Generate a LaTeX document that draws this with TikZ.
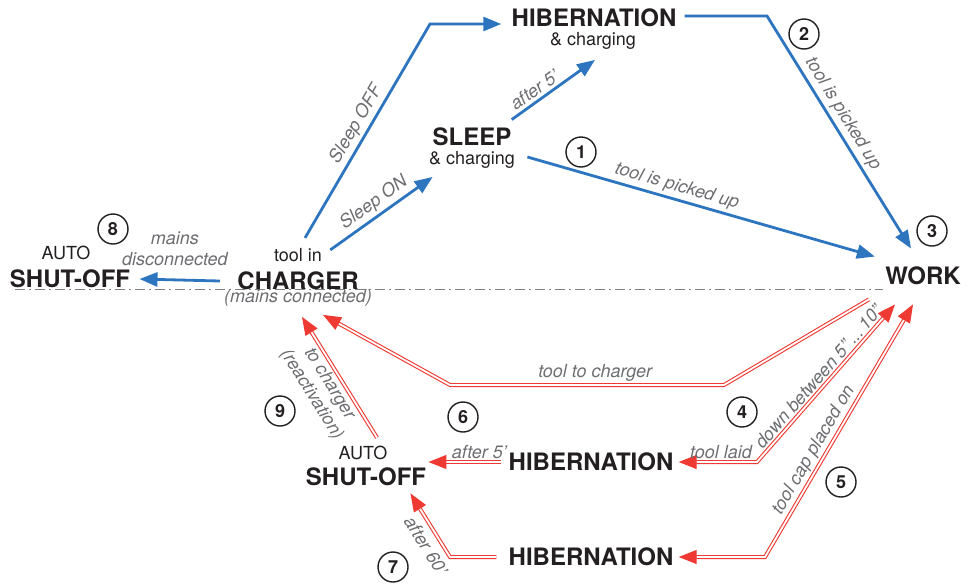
\documentclass[tikz,border=0pt]{standalone}
\usepackage{fontspec}
\setmainfont{TeX Gyre Heros}
\usepackage{xcolor}
\usepackage{tikz}
\usetikzlibrary{arrows.meta}
\definecolor{ink}{HTML}{231F20}
\definecolor{muted}{HTML}{6D6E71}
\definecolor{rule}{HTML}{808080}
\definecolor{flowblue}{HTML}{2E75BF}
\definecolor{flowred}{HTML}{EE3A33}
\tikzset{
  state/.style={text=ink, font=\fontsize{12}{14}\selectfont\bfseries, inner sep=1pt},
  sub/.style={text=ink, font=\fontsize{9}{10.5}\selectfont, inner sep=1pt},
  lab/.style={text=muted, font=\fontsize{9}{10.5}\selectfont\itshape, inner sep=1.5pt},
  num/.style={circle, draw=ink, line width=0.7pt, minimum size=15pt, inner sep=0pt, text=ink, font=\fontsize{9}{10}\selectfont\bfseries},
  blueflow/.style={draw=flowblue, line width=1.4pt, -{Triangle[length=9pt,width=7pt]}},
  redflow/.style={draw=flowred, double=white, line width=0.55pt, double distance=0.9pt, -{Triangle[length=9pt,width=7pt,fill=flowred]}},
  redboth/.style={redflow, {Triangle[length=9pt,width=7pt,fill=flowred]}-{Triangle[length=9pt,width=7pt,fill=flowred]}},
  divider/.style={draw=rule, line width=0.5pt, dash pattern=on 5pt off 2pt on 1pt off 2pt},
}

\begin{document}
\begin{tikzpicture}[x=0.5pt, y=-0.5pt]
  \useasboundingbox (0,0) rectangle (973,584);
  \draw[divider] (15,289) -- (883,289);

  \node[state] (hibtop) at (594,18) {HIBERNATION};
  \node[sub] (hibtopsub) at (593,41) {\& charging};
  \node[state] (sleep) at (472,137) {SLEEP};
  \node[sub] (sleepsub) at (472,160) {\& charging};
  \node[state] (work) at (923,276) {WORK};
  \node[sub] (toolin) at (298,255) {tool in};
  \node[state] (charger) at (298,281) {CHARGER};
  \node[lab, inner sep=1pt] (mainsc) at (298,298) {(mains connected)};
  \node[sub] (autoL) at (66,253) {AUTO};
  \node[state] (shutL) at (70,279) {SHUT-OFF};
  \node[sub] (autoB) at (363,453) {AUTO};
  \node[state] (shutB) at (366,477) {SHUT-OFF};
  \node[state] (hibmid) at (591,462) {HIBERNATION};
  \node[state] (hibbot) at (591,557) {HIBERNATION};

  \coordinate (bendoff) at (430,24);
  \coordinate (bendpick) at (767,16);
  \coordinate (bendtc1) at (724,385);
  \coordinate (bendtc2) at (450,385);
  \coordinate (bendlaid) at (757,462);
  \coordinate (bendcap) at (765,557);
  \coordinate (bendsixty) at (450,557);

  \draw[blueflow, shorten >=4pt] ([xshift=3.5pt,yshift=4pt]toolin.north) -- node[lab, sloped, above] {Sleep OFF} (bendoff) -- (bendoff -| hibtop.west);
  \draw[blueflow] ([xshift=3pt,yshift=-2pt]toolin.north east) -- node[lab, sloped, above] {Sleep ON} ([xshift=3pt,yshift=-3pt]sleepsub.south west);
  \draw[blueflow] ([xshift=-1pt,yshift=3pt]sleep.north east) -- node[lab, sloped, above, pos=0.35] {after 5'} ([xshift=1pt,yshift=-4pt]hibtopsub.south);
  \draw[blueflow] ([xshift=5pt,yshift=1.5pt]sleepsub.east) -- node[lab, sloped, above, pos=0.42] {tool is picked up} ([xshift=-4pt,yshift=4pt]work.north west);
  \draw[blueflow] ([xshift=3pt,yshift=1pt]hibtop.east) -- (bendpick) -- node[lab, sloped, above, pos=0.45] {tool is picked up} ([xshift=-6pt,yshift=8pt]work.north);
  \draw[blueflow] ([xshift=-7.5pt]charger.west) -- node[lab, above=5pt, align=center, pos=0.56] {mains\\disconnected} ([xshift=3.5pt]shutL.east);

  \draw[redflow] ([xshift=-7pt,yshift=-6pt]work.south west) -- (bendtc1) -- node[lab, above, pos=0.47] {tool to charger} (bendtc2) -- ([xshift=12.5pt,yshift=-3pt]mainsc.south);
  \draw[redflow] ([xshift=7pt,yshift=3pt]autoB.north) -- node[lab, sloped, below, align=center, pos=0.5] {to charger\\(reactivation)} ([xshift=2pt,yshift=-4pt]mainsc.south);
  \draw[redboth] ([xshift=-14pt,yshift=-8.5pt]work.south) -- node[lab, sloped, above, pos=0.5] {down between 5"\,...\,10"} (bendlaid) -- node[lab, above, pos=0.46] {tool laid} ([xshift=1.5pt]hibmid.east);
  \draw[redboth] ([xshift=-5pt,yshift=-8.5pt]work.south) -- node[lab, sloped, above, pos=0.6] {tool cap placed on} (bendcap) -- ([xshift=1.5pt]hibbot.east);
  \draw[redflow] ([xshift=-2.5pt]hibmid.west) -- node[lab, above, pos=0.3] {after 5'} (hibmid.west -| shutB.north east);
  \draw[redflow] ([xshift=-5pt]hibbot.west) -- (bendsixty) -- node[lab, sloped, below, inner sep=3.5pt, pos=0.3] {after 60'} ([xshift=-9pt,yshift=-2.5pt]shutB.south east);

  \node[num] (n1) at (581,152) {1};
  \node[num] (n2) at (804,34) {2};
  \node[num] (n3) at (932,231) {3};
  \node[num] (n4) at (742,412) {4};
  \node[num] (n5) at (841,482) {5};
  \node[num] (n6) at (463,417) {6};
  \node[num] (n7) at (393,567) {7};
  \node[num] (n8) at (113,229) {8};
  \node[num] (n9) at (280,411) {9};
\end{tikzpicture}
\end{document}
